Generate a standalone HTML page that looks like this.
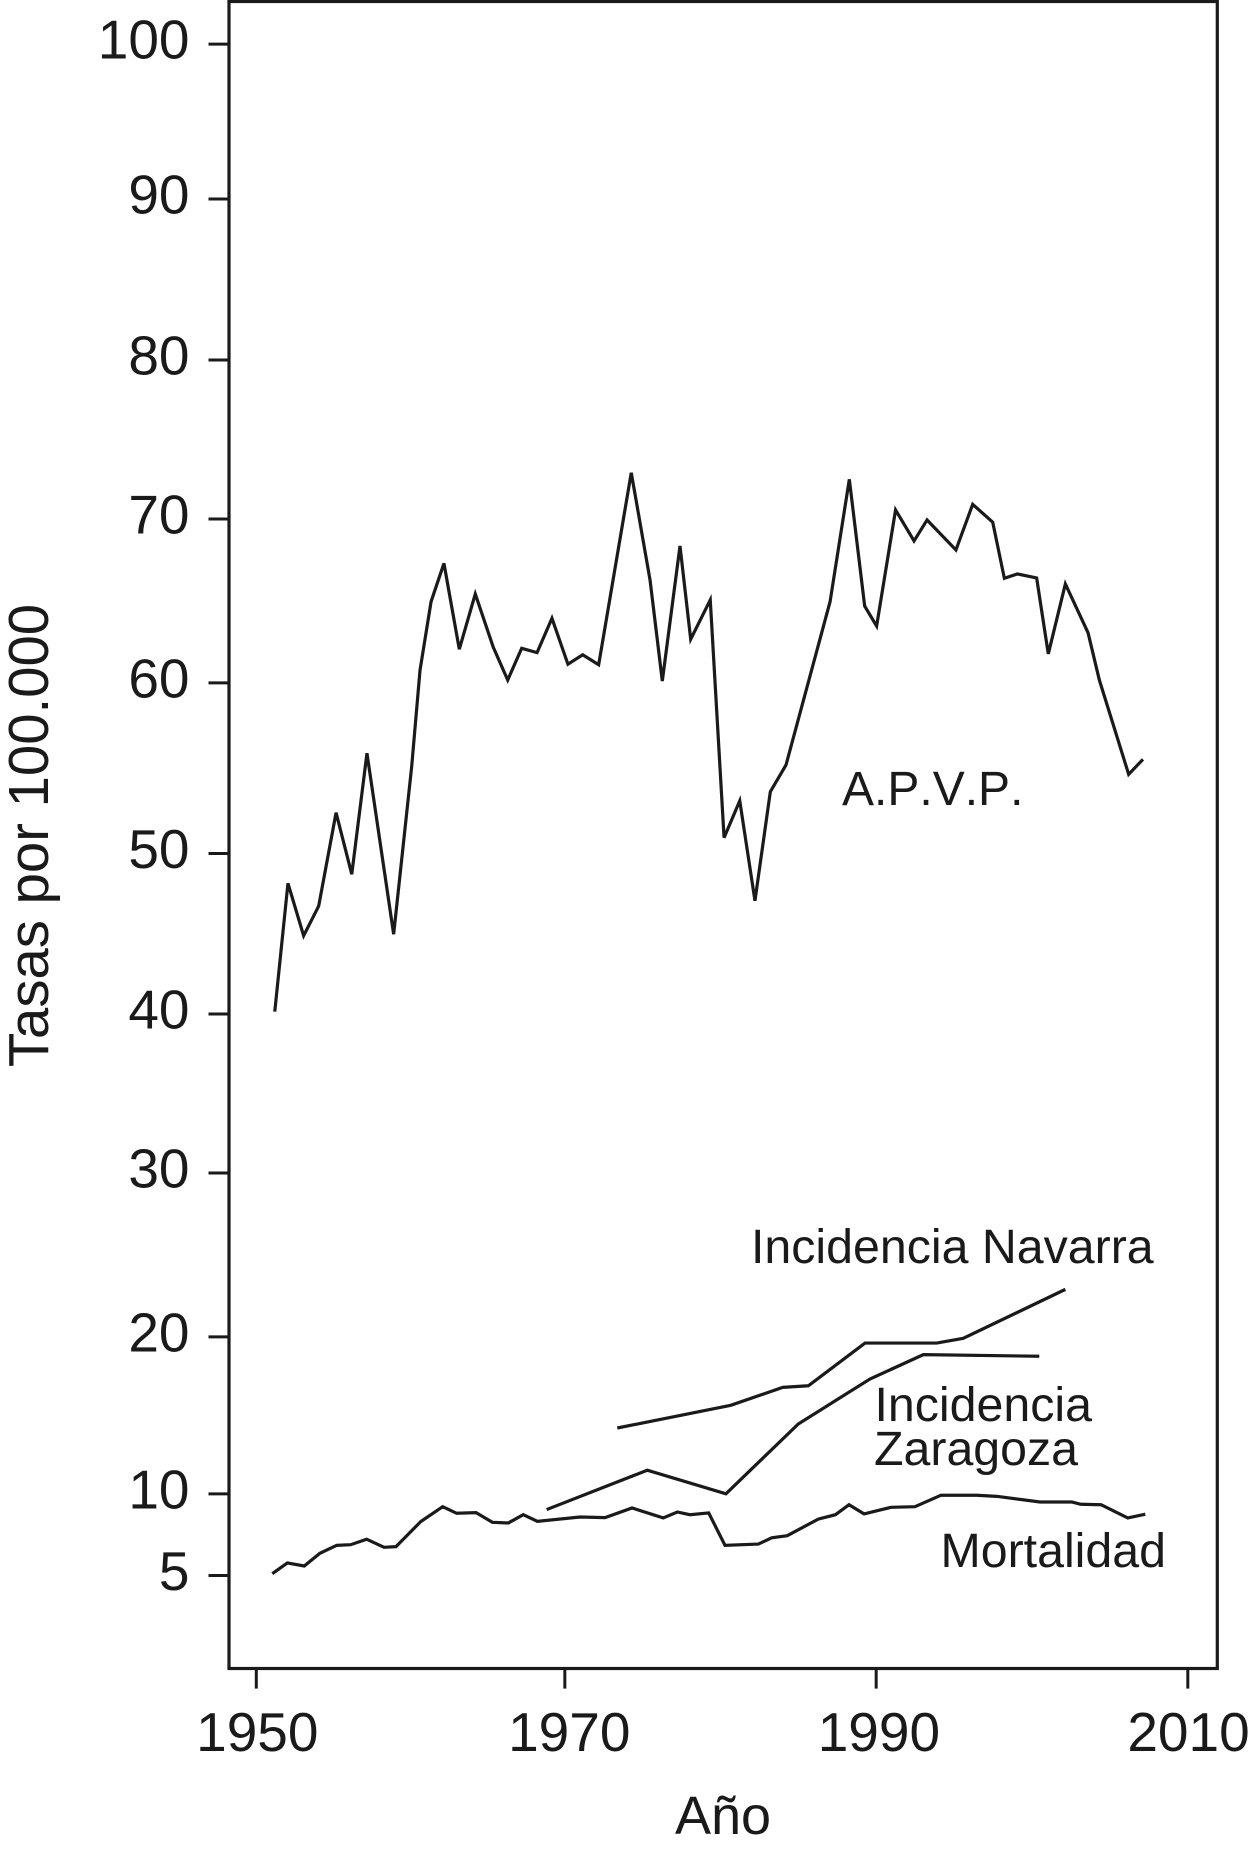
<!DOCTYPE html>
<html lang="es">
<head>
<meta charset="utf-8">
<title>Tasas por 100.000</title>
<style>
html,body{margin:0;padding:0;background:#fff;}
svg{display:block;}
text{font-family:"Liberation Sans",Arial,sans-serif;fill:#1a1a1a;}
.tick{stroke:#1a1a1a;stroke-width:3;fill:none;}
.series{stroke:#1a1a1a;stroke-width:3.2;fill:none;stroke-linejoin:miter;stroke-miterlimit:4;}
.lab{font-kerning:none;}
</style>
</head>
<body>
<svg id="chart" width="1250" height="1852" viewBox="0 0 1250 1852" xmlns="http://www.w3.org/2000/svg">
  <rect x="229" y="1.5" width="988.3" height="1667" fill="none" stroke="#1a1a1a" stroke-width="3.2"/>
  <g id="y-axis"></g>
  <g id="x-axis"></g>
  <g id="series"></g>
  <text transform="translate(48,835.5) rotate(-90)" text-anchor="middle" font-size="56.3">Tasas por 100.000</text>
  <text x="723" y="1834" text-anchor="middle" font-size="54">Año</text>
  <text class="lab" x="842" y="805" font-size="48">A.P.V.P.</text>
  <text class="lab" x="751" y="1263" font-size="48.3">Incidencia Navarra</text>
  <text class="lab" x="874.5" y="1421" font-size="48.3">Incidencia</text>
  <text class="lab" x="874" y="1465" font-size="48.3">Zaragoza</text>
  <text class="lab" x="940.5" y="1567" font-size="48.3">Mortalidad</text>
</svg>
<script>
// Tick labels and where each tick sits in data units (source axis is slightly irregular)
const yTickLabels = ["100","90","80","70","60","50","40","30","20","10","5"];
const yTickValues = [100,90.39,80.4,70.54,60.37,49.79,39.83,29.97,19.8,10.06,5];
const xTickLabels = ["1950","1970","1990","2010"];
const xTickValues = [1950,1969.88,1989.94,2010.02];
const xLabelValues = [1950,1970.1,1990.05,2010];

const apvpYears = [1951.19,1952.04,1953.05,1954.02,1955.14,1956.15,1957.13,1958.85,1960.01,1960.55,1961.26,1962.09,1963.08,1964.11,1965.27,1966.2,1967.1,1968.09,1969.05,1970.08,1971.03,1972.06,1974.16,1975.37,1976.16,1977.3,1977.99,1979.25,1980.14,1981.15,1982.13,1983.12,1984.13,1986.97,1988.21,1989.2,1989.97,1991.19,1992.38,1993.22,1995.08,1996.16,1997.45,1998.2,1999.03,2000.28,2001.03,2002.13,2003.59,2004.32,2006.21,2007.13];
const apvpValues = [39.98,47.94,44.69,46.53,52.32,48.5,56.01,44.78,55.17,61.17,65.41,67.79,62.46,65.89,62.58,60.55,62.52,62.25,64.38,61.53,62.12,61.5,73.41,66.76,60.49,68.87,63.08,65.52,50.77,53.06,46.86,53.62,55.28,65.41,73,65.14,63.9,71.1,69.18,70.48,68.62,71.45,70.34,66.86,67.13,66.88,62.17,66.51,63.49,60.55,54.7,55.63];

const mortalidadYears = [1951.03,1952,1953.09,1954.1,1955.18,1956.08,1957.11,1958.23,1959,1960.59,1962.01,1962.91,1964.16,1965.21,1966.24,1967.2,1968.11,1970.86,1972.47,1974.21,1976.22,1977.13,1977.94,1979.15,1980.2,1982.35,1983.21,1984.21,1986.21,1987.31,1988.19,1989.16,1990.9,1992.44,1994.12,1996.42,1997.71,2000.5,2002.54,2003.12,2004.43,2006.15,2007.28];
const mortalidadValues = [5.11,5.78,5.59,6.38,6.87,6.91,7.25,6.75,6.79,8.34,9.27,8.86,8.9,8.3,8.26,8.77,8.36,8.63,8.59,9.19,8.57,8.94,8.77,8.88,6.87,6.95,7.34,7.47,8.5,8.77,9.39,8.82,9.23,9.27,9.98,9.98,9.91,9.56,9.56,9.42,9.39,8.57,8.8];

const navarraYears = [1973.26,1980.57,1983.92,1985.57,1989.22,1993.84,1995.55,2002.13];
const navarraValues = [14.15,15.56,16.67,16.77,19.42,19.42,19.71,22.75];

const zaragozaYears = [1968.71,1975.19,1980.26,1984.92,1989.54,1992.98,2000.45];
const zaragozaValues = [9.09,11.53,10.07,14.4,17.19,18.7,18.6];

const NS = "http://www.w3.org/2000/svg";
function xScale(year){ return 256.3 + (year - 1950) * 15.52; }
function yScale(value){ return 1575.5 - (value - 5) * 16.12; }

const yAxis = document.getElementById("y-axis");
yTickValues.forEach(function(v, i){
  const py = yScale(v);
  const line = document.createElementNS(NS, "line");
  
  
  line.setAttribute("class", "tick");
  line.setAttribute("x1", 208.5);
  line.setAttribute("x2", 229);
  line.setAttribute("y1", py);
  line.setAttribute("y2", py);
  yAxis.appendChild(line);
  const t = document.createElementNS(NS, "text");
  
  
  t.setAttribute("x", 189.5);
  t.setAttribute("y", py + 14.5);
  t.setAttribute("text-anchor", "end");
  t.setAttribute("font-size", "55");
  t.textContent = yTickLabels[i];
  yAxis.appendChild(t);
});

const xAxis = document.getElementById("x-axis");
xTickValues.forEach(function(v, i){
  const px = xScale(v);
  const line = document.createElementNS(NS, "line");
  
  
  line.setAttribute("class", "tick");
  line.setAttribute("x1", px);
  line.setAttribute("x2", px);
  line.setAttribute("y1", 1668.5);
  line.setAttribute("y2", 1688.6);
  xAxis.appendChild(line);
  const t = document.createElementNS(NS, "text");
  
  
  t.setAttribute("x", xScale(xLabelValues[i]) + 1);
  t.setAttribute("y", 1751);
  t.setAttribute("text-anchor", "middle");
  t.setAttribute("font-size", "55");
  t.textContent = xTickLabels[i];
  xAxis.appendChild(t);
});

const seriesGroup = document.getElementById("series");
function drawSeries(years, values, name){
  const d = years.map(function(yr, i){
    return (i ? "L" : "M") + xScale(yr).toFixed(2) + " " + yScale(values[i]).toFixed(2);
  }).join(" ");
  const path = document.createElementNS(NS, "path");
  
  
  path.setAttribute("class", "series");
  path.setAttribute("d", d);
  seriesGroup.appendChild(path);
}
drawSeries(apvpYears, apvpValues, "apvp-line");
drawSeries(mortalidadYears, mortalidadValues, "mortalidad-line");
drawSeries(navarraYears, navarraValues, "incidencia-navarra-line");
drawSeries(zaragozaYears, zaragozaValues, "incidencia-zaragoza-line");
</script>
</body>
</html>
